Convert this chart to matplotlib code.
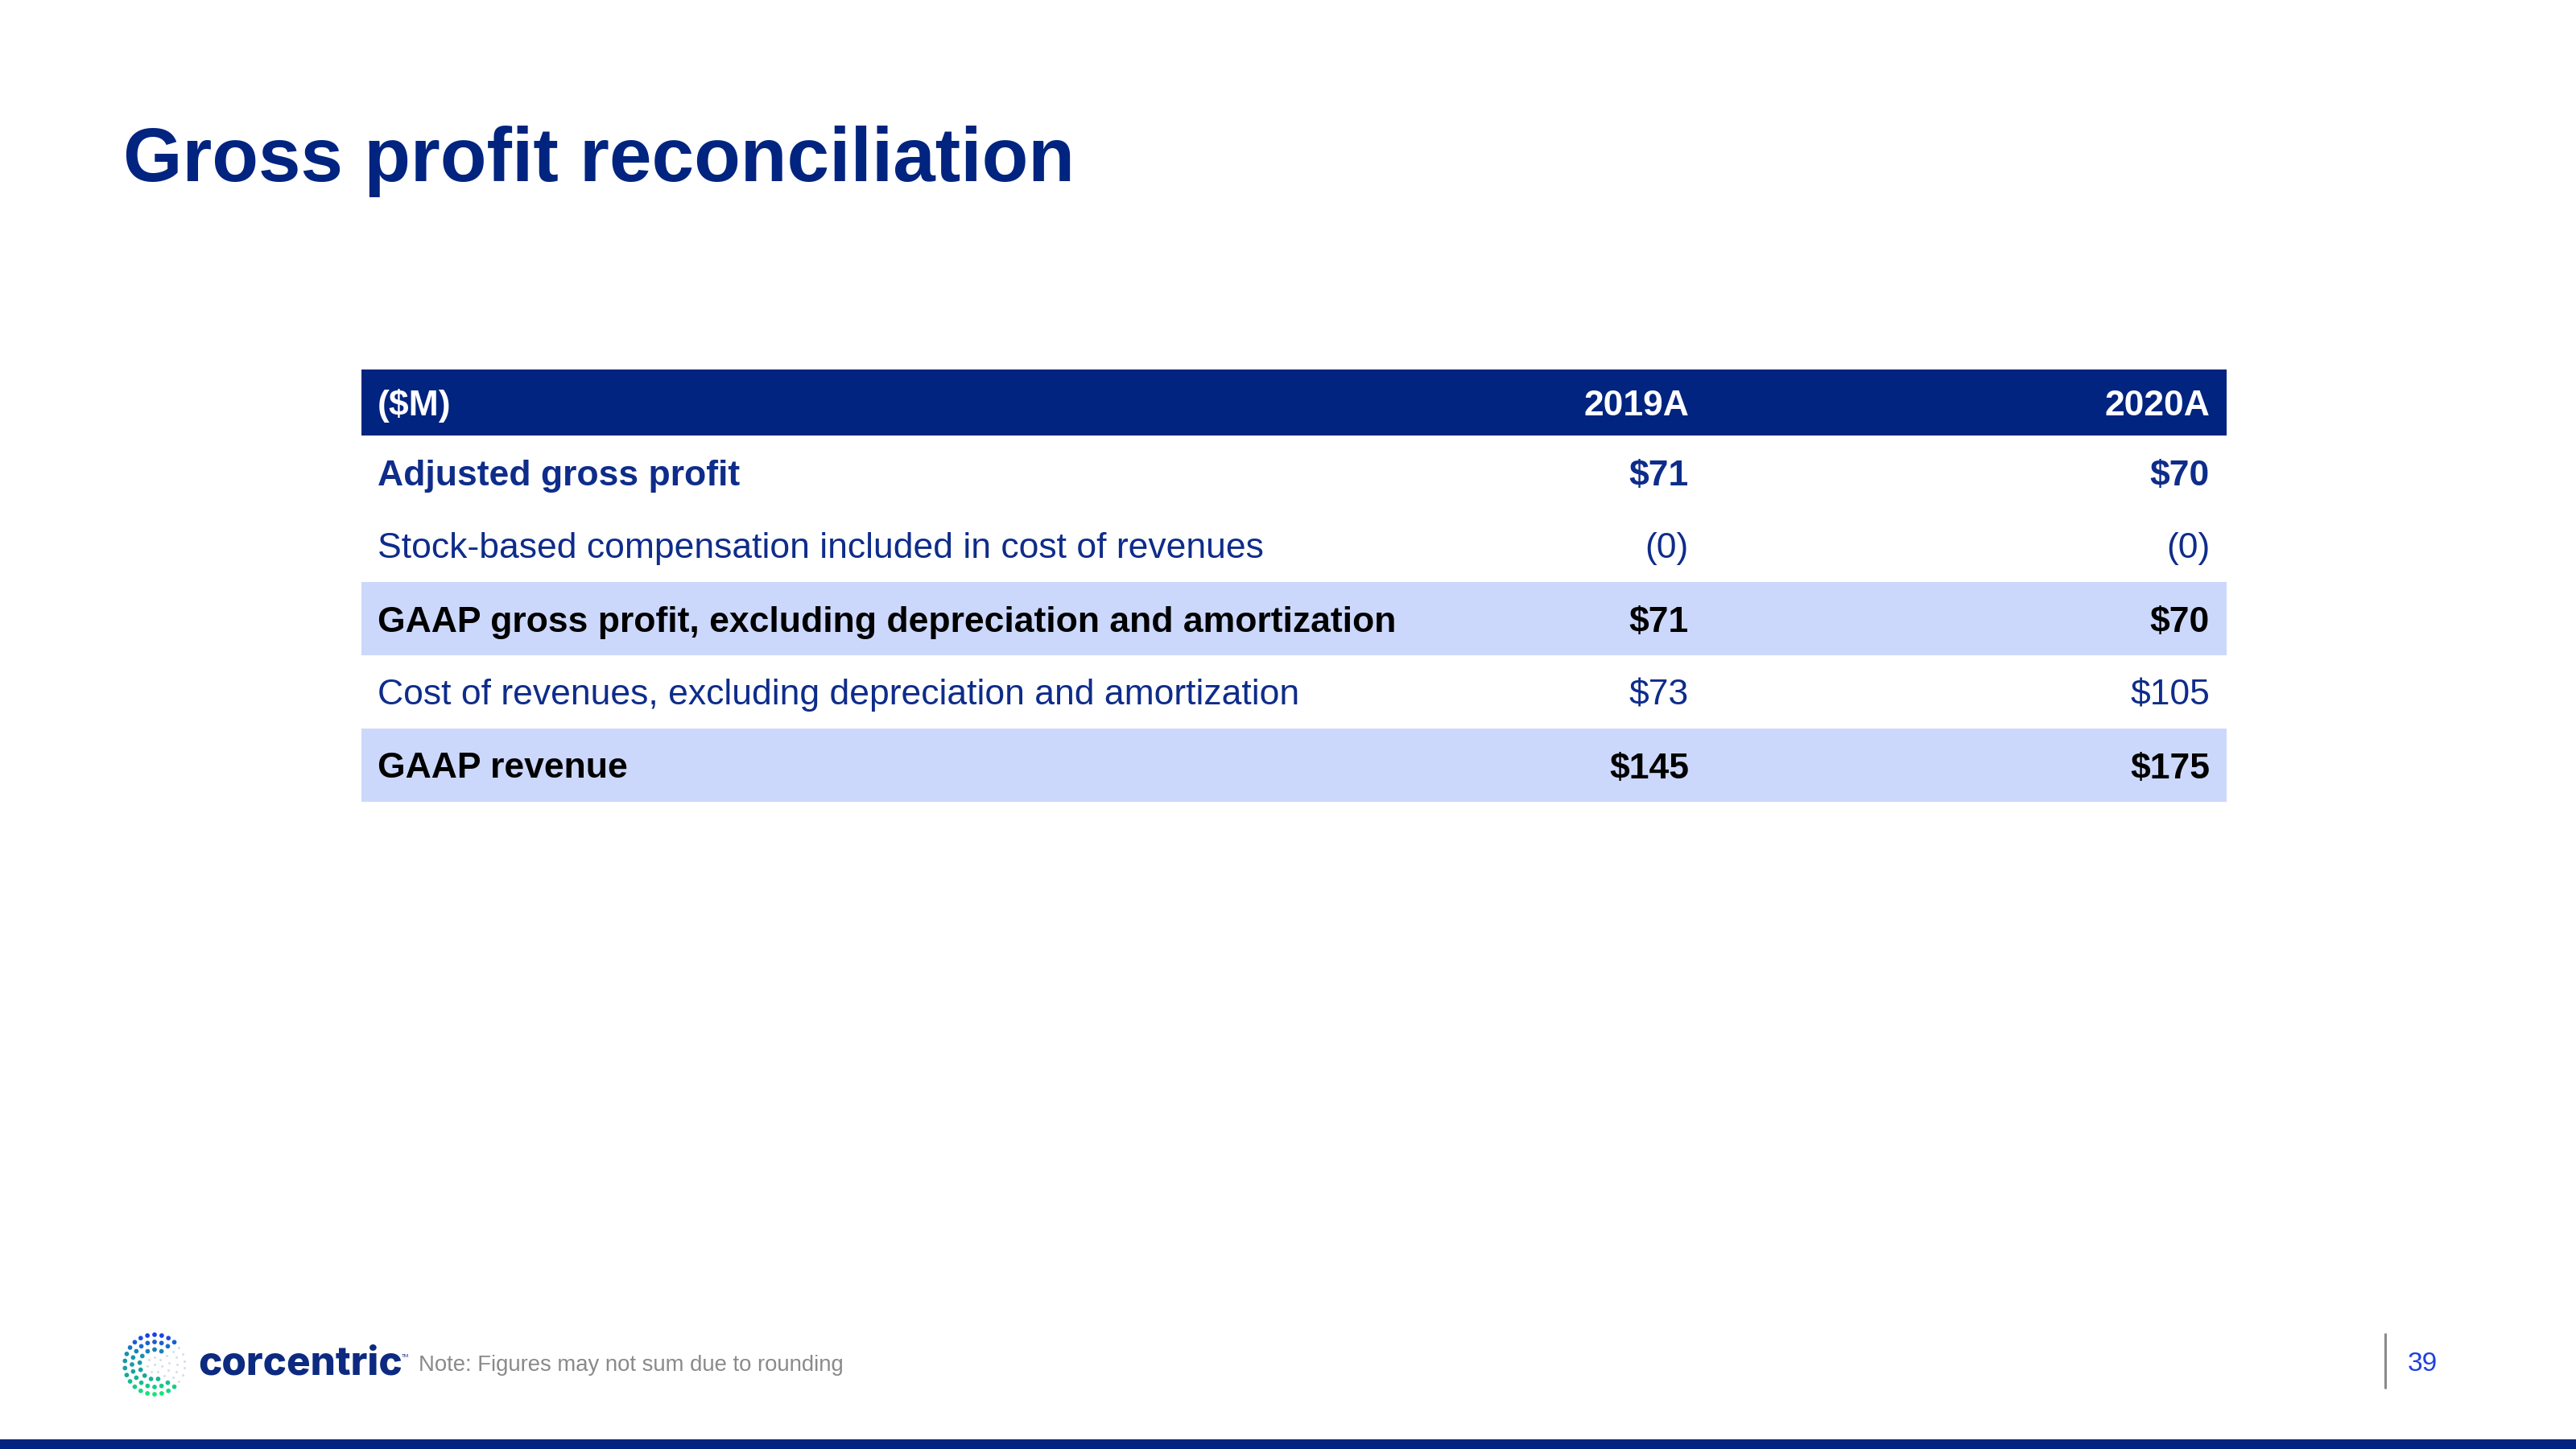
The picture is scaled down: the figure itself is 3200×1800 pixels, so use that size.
import numpy as np
import matplotlib
matplotlib.use("Agg")
import matplotlib.pyplot as plt
from matplotlib.patches import Rectangle
from matplotlib.colors import LinearSegmentedColormap

# ---------------- data ----------------
title = "Gross profit reconciliation"
unit_label = "($M)"
years = ["2019A", "2020A"]
row_labels = [
    "Adjusted gross profit",
    "Stock-based compensation included in cost of revenues",
    "GAAP gross profit, excluding depreciation and amortization",
    "Cost of revenues, excluding depreciation and amortization",
    "GAAP revenue",
]
values_2019 = ["$71", "(0)", "$71", "$73", "$145"]
values_2020 = ["$70", "(0)", "$70", "$105", "$175"]
row_bold = [True, False, True, False, True]
row_band = [False, False, True, False, True]
row_dark = [False, False, True, False, True]
note = "Note: Figures may not sum due to rounding"
page = "39"
brand = "corcentric"

# ---------------- style ----------------
NAVY = "#00247F"
TEXT_NAVY = "#0E2C8A"
BAND = "#CCD8FB"
GRAY = "#8A8A8A"
PAGE_BLUE = "#1E3FE0"
FONT = "Liberation Sans"

W, H = 3200, 1800
fig = plt.figure(figsize=(32, 18), dpi=100)
ax = fig.add_axes([0, 0, 1, 1])
ax.set_xlim(0, W)
ax.set_ylim(H, 0)
ax.axis("off")

# title
ax.text(153, 225, title, fontsize=68, fontweight="bold", color=NAVY,
        family=FONT, ha="left", va="baseline")

# table geometry
x_left, x_right = 449, 2766
header_top, header_h, row_h = 459, 82, 91
text_x = 469
col_right = [2098, 2745]
cap_half = 16

ax.add_patch(Rectangle((x_left, header_top), x_right - x_left, header_h,
                       facecolor=NAVY, edgecolor="none"))
hy = header_top + header_h / 2 + cap_half
ax.text(text_x, hy, unit_label, fontsize=32, fontweight="bold", color="white",
        family=FONT, ha="left", va="baseline")
for xr, yr in zip(col_right, years):
    ax.text(xr, hy, yr, fontsize=32, fontweight="bold", color="white",
            family=FONT, ha="right", va="baseline")

for i, (lab, v1, v2) in enumerate(zip(row_labels, values_2019, values_2020)):
    top = header_top + header_h + i * row_h
    if row_band[i]:
        ax.add_patch(Rectangle((x_left, top), x_right - x_left, row_h,
                               facecolor=BAND, edgecolor="none"))
    color = "black" if row_dark[i] else TEXT_NAVY
    weight = "bold" if row_bold[i] else "normal"
    y = top + row_h / 2 + cap_half
    ax.text(text_x, y, lab, fontsize=32, fontweight=weight, color=color,
            family=FONT, ha="left", va="baseline")
    for xr, v in zip(col_right, (v1, v2)):
        ax.text(xr, y, v, fontsize=32, fontweight=weight, color=color,
                family=FONT, ha="right", va="baseline")

# footer bar
ax.add_patch(Rectangle((0, 1788), W, 12, facecolor=NAVY, edgecolor="none"))

# page number with divider
ax.plot([2963, 2963], [1656, 1725], color=GRAY, lw=2.2, solid_capstyle="butt")
ax.text(2991, 1703, page, fontsize=24, color=PAGE_BLUE, family=FONT,
        ha="left", va="baseline")

# note
ax.text(520, 1703, note, fontsize=19.8, color=GRAY, family=FONT,
        ha="left", va="baseline")

# logo: dotted "C"
cmap = LinearSegmentedColormap.from_list("logo", ["#1B3CE8", "#1A8FB0", "#16A79A", "#18E67A"])
cx, cy = 192, 1695
rings = [(37, 26, 38), (28, 20, 40), (18.5, 13, 62), (9.5, 7, 180), (0, 1, 180)]
for r, n, open_deg in rings:
    ang = np.deg2rad(90 + np.arange(n) * 360.0 / n)
    xs = cx + r * np.cos(ang)
    ys = cy - r * np.sin(ang)
    deg = (np.rad2deg(ang) + 180) % 360 - 180
    faint = np.abs(deg) < open_deg
    t = np.clip((ys - (cy - 38)) / 76, 0, 1)
    cols = cmap(t)
    ax.scatter(xs[~faint], ys[~faint], s=17, c=cols[~faint], linewidths=0, zorder=3)
    ax.scatter(xs[faint], ys[faint], s=5, c="#D9DEE8", linewidths=0, zorder=3)

ax.text(246, 1708, brand, fontsize=35.5, fontweight="heavy", color="#0C2A80",
        family="Inter", ha="left", va="baseline")
ax.text(499, 1686, "TM", fontsize=4.5, color="#0C2A80", family=FONT,
        ha="left", va="baseline")

fig.savefig("out.png", dpi=100)
